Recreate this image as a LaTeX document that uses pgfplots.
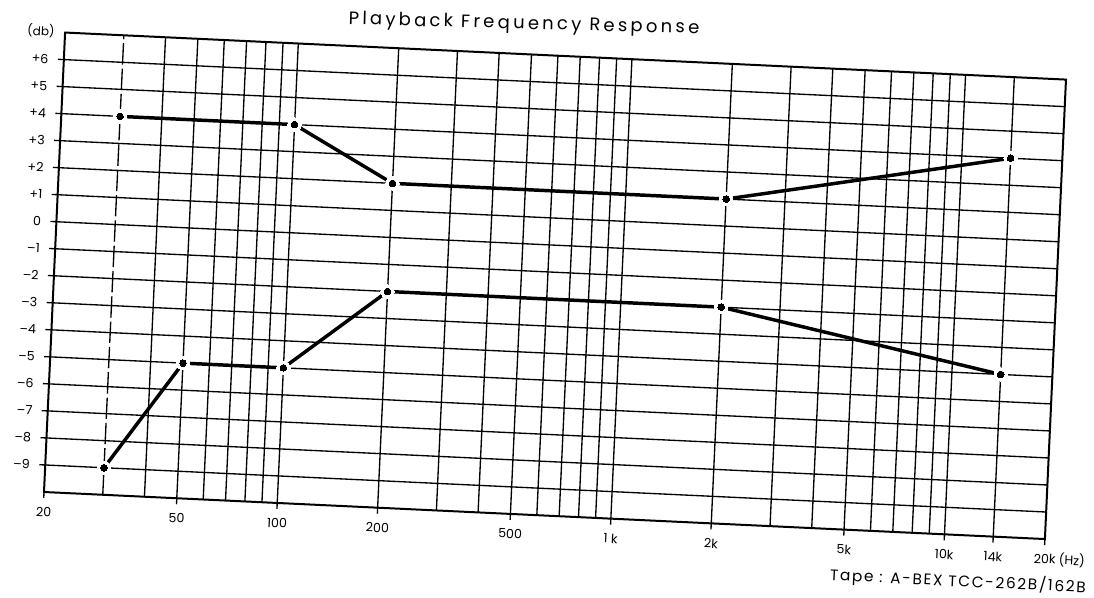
\documentclass[border=0pt]{standalone}
\usepackage{fontspec}
\setmainfont{Poppins}
\usepackage{pgfplots}
\usepackage{pgfplotstable}
\pgfplotsset{compat=1.18}
\pgfplotstableread{
f db
30 4
100 4
200 2
2000 2
14000 4
}\topseries
\pgfplotstableread{
f db
30 -9
50 -5
100 -5
200 -2
2000 -2
14000 -4
}\bottomseries
\begin{document}
\begin{tikzpicture}
\begin{axis}[
  xmode=log, log basis x=10,
  x={(250.22pt,-11.76pt)}, y={(0.93pt,20.27pt)},
  xmin=20, xmax=20000, ymin=-10, ymax=7,
  axis line style={line width=1.5pt},
  tick pos=left, tick align=outside,
  major tick length=4.5pt, minor tick length=0pt,
  every tick/.style={black, line width=1pt},
  xtick={20,50,100,200,500,1000,2000,5000,10000,14000,20000},
  xticklabels={20,50,100,200,500,1 k,2k,5k,10k,14k,20k\rlap{ (Hz)}},
  minor xtick={40,50,60,70,80,90,100,200,300,400,500,600,700,800,900,1000,2000,3000,4000,5000,6000,7000,8000,9000,10000,14000},
  extra x ticks={30}, extra x tick labels={},
  extra x tick style={grid=major, major tick length=0pt, grid style={black, line width=1pt, dash pattern=on 16pt off 3pt}},
  xminorgrids=true, xmajorgrids=false,
  ytick={-9,-8,-7,-6,-5,-4,-3,-2,-1,0,1,2,3,4,5,6},
  yticklabels={\textendash9,\textendash8,\textendash7,\textendash6,\textendash5,\textendash4,\textendash3,\textendash2,\textendash1,0,+1,+2,+3,+4,+5,+6},
  ymajorgrids=true,
  grid style={black, line width=1pt},
  minor grid style={black, line width=1pt},
  xticklabel style={anchor=center, inner sep=1pt, yshift=-10.5pt, rotate=-2.7, font=\fontsize{9.5}{10}\selectfont},
  yticklabel style={anchor=east, xshift=-3.5pt, rotate=-2.7, font=\fontsize{9.5}{10}\selectfont},
]
\addplot[black, line width=2.6pt] table[x=f, y=db] {\topseries};
\addplot[black, line width=2.6pt] table[x=f, y=db] {\bottomseries};
\addplot[white, only marks, mark=*, mark size=5pt, mark options={draw=white, fill=white, line width=0pt}] table[x=f, y=db] {\topseries};
\addplot[white, only marks, mark=*, mark size=5pt, mark options={draw=white, fill=white, line width=0pt}] table[x=f, y=db] {\bottomseries};
\addplot[black, only marks, mark=*, mark size=2.5pt, mark options={draw=black, fill=black, line width=0pt}] table[x=f, y=db] {\topseries};
\addplot[black, only marks, mark=*, mark size=2.5pt, mark options={draw=black, fill=black, line width=0pt}] table[x=f, y=db] {\bottomseries};
\coordinate (BL) at (axis cs:20,-10);
\end{axis}
\begin{scope}[shift={(BL)}]
\node[rotate=-1.5, font=\fontsize{13.5}{15}\selectfont\addfontfeatures{LetterSpace=18}] at (360pt,350.5pt) {Playback Frequency Response};
\node[rotate=-2.7, font=\fontsize{9}{10}\selectfont] at (-2.25pt,345.75pt) {(db)};
\node[rotate=-2.8, inner sep=1pt, font=\fontsize{11.5}{13}\selectfont\addfontfeatures{LetterSpace=11}] at (685.5pt,-67pt) {Tape : A-BEX TCC-262B/162B};
\end{scope}
\pgfresetboundingbox
\path[use as bounding box] (BL) ++(-33pt,-78.75pt) rectangle ++(820.5pt,447.75pt);
\end{tikzpicture}
\end{document}
